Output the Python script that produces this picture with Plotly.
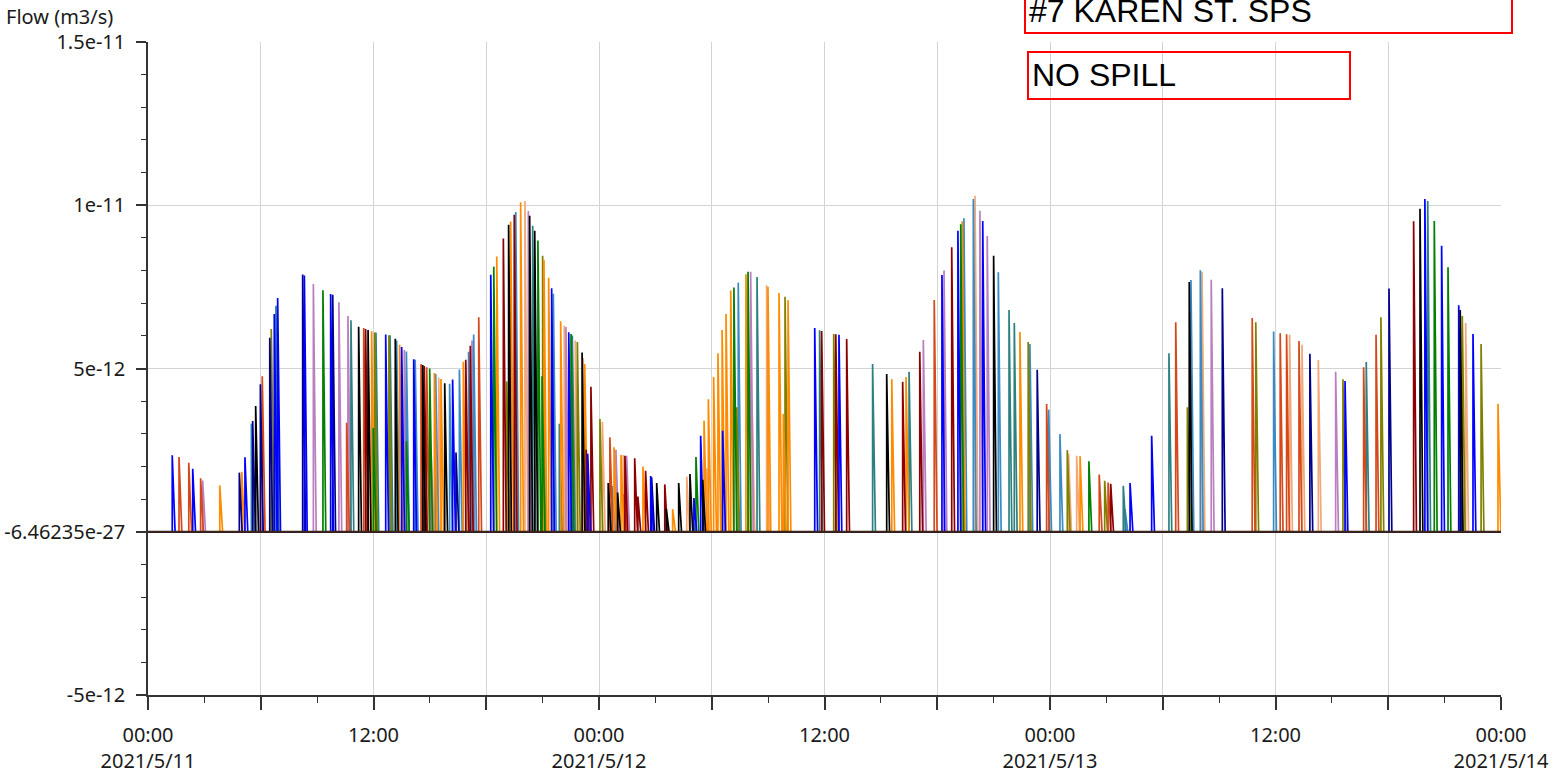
import plotly.graph_objects as go
import pandas as pd

START = pd.Timestamp("2021-05-11 00:00")
END = pd.Timestamp("2021-05-14 00:00")

# spike times (hours after 2021-05-11 00:00) and peak flows (x 1e-12 m3/s)
blue_h = [1.29, 2.38, 5.16, 6.72, 6.90, 8.32, 9.72, 12.65, 13.50, 14.14, 16.21, 18.24, 21.48, 22.39, 23.40, 26.75, 29.05, 29.41, 30.58, 35.48, 36.77, 42.25, 43.10, 44.42, 52.26, 53.41, 63.70, 67.95, 68.84, 69.75, 70.51]
blue_v = [2.34, 1.93, 2.28, 6.67, 7.16, 7.85, 7.28, 6.04, 5.66, 5.28, 4.66, 7.87, 7.46, 6.11, 2.39, 1.71, 1.03, 2.94, 3.09, 6.24, 6.03, 7.86, 9.22, 9.52, 1.49, 2.94, 4.62, 10.19, 8.76, 6.94, 6.06]

navy_h = [4.86, 5.57, 5.98, 6.48, 8.23, 9.83, 16.39, 26.80, 47.32, 57.17, 61.83, 66.04]
navy_v = [1.81, 3.39, 4.52, 5.94, 7.88, 7.26, 2.43, 1.67, 4.96, 7.46, 5.45, 7.45]

orange_h = [3.82, 4.99, 11.90, 13.39, 15.24, 15.59, 16.78, 18.56, 19.30, 19.83, 21.07, 21.32, 21.96, 23.24, 24.80, 25.17, 26.34, 27.92, 29.59, 29.82, 30.10, 30.33, 30.55, 30.76, 31.01, 31.82, 32.99, 33.58, 33.81, 34.06, 39.58, 40.34, 43.33, 46.40, 49.60, 71.84]
orange_v = [1.42, 1.84, 6.14, 5.73, 4.86, 4.68, 5.21, 8.43, 9.50, 10.09, 8.33, 7.78, 6.45, 5.14, 2.59, 2.35, 2.00, 0.69, 3.40, 4.06, 4.74, 5.47, 6.18, 6.67, 7.39, 7.89, 7.50, 7.31, 3.61, 7.10, 4.67, 4.74, 9.51, 6.12, 2.31, 3.92]

green_h = [9.31, 11.99, 13.75, 14.99, 18.40, 20.75, 20.97, 22.51, 29.16, 31.18, 31.93, 43.25, 50.07, 68.45, 69.18]
green_v = [7.40, 3.18, 2.77, 5.00, 8.12, 8.92, 4.76, 6.06, 2.29, 7.48, 7.96, 9.42, 2.16, 9.52, 8.10]

black_h = [5.73, 11.21, 11.71, 13.16, 14.62, 15.79, 19.19, 20.31, 20.58, 23.10, 24.49, 24.99, 27.07, 27.58, 28.24, 28.84, 29.52, 39.31, 45.00, 55.41, 67.69, 69.83]
black_v = [3.85, 6.28, 6.18, 5.91, 5.11, 4.55, 9.40, 9.68, 9.22, 5.49, 1.49, 1.20, 1.49, 0.70, 1.49, 1.77, 1.59, 4.83, 8.45, 7.65, 9.89, 6.79]

darkred_h = [11.58, 14.70, 16.91, 17.15, 18.91, 19.49, 23.32, 23.57, 25.38, 25.90, 26.07, 26.48, 27.50, 35.85, 36.60, 37.18, 40.16, 41.07, 42.77, 51.23, 67.35]
darkred_v = [6.21, 5.08, 5.27, 5.70, 8.98, 9.71, 2.51, 4.44, 2.33, 2.25, 1.08, 1.87, 1.45, 6.15, 6.05, 5.90, 4.59, 5.51, 8.71, 1.47, 9.51]

orangered_h = [1.65, 2.17, 2.80, 6.08, 10.57, 11.48, 14.53, 14.83, 17.60, 24.58, 25.33, 41.84, 47.82, 50.62, 51.09, 54.69, 58.76, 60.25, 60.59, 61.25, 64.69, 65.35]
orangered_v = [2.29, 2.11, 1.64, 4.76, 3.34, 6.24, 5.14, 5.04, 6.57, 2.89, 1.16, 7.10, 3.91, 1.75, 1.51, 6.42, 6.55, 6.08, 6.05, 5.84, 5.04, 6.03]

plum_h = [2.91, 8.80, 10.16, 10.64, 13.64, 15.06, 17.24, 20.24, 22.24, 24.90, 25.47, 32.07, 41.26, 42.36, 44.27, 44.66, 56.58, 63.20]
plum_v = [1.57, 7.59, 7.03, 6.61, 5.57, 2.49, 5.86, 9.82, 6.27, 2.51, 2.33, 7.96, 5.87, 8.00, 9.83, 9.06, 7.72, 4.90]

teal_h = [6.81, 10.80, 12.13, 12.88, 20.47, 21.89, 22.58, 32.41, 35.74, 38.56, 40.50, 45.82, 46.10, 51.90, 54.33, 64.83, 68.10]
teal_v = [6.92, 6.48, 6.10, 6.02, 9.37, 3.31, 6.01, 7.80, 6.17, 5.14, 4.90, 6.79, 6.39, 1.41, 5.47, 5.20, 10.13]

steel_h = [5.50, 13.23, 13.75, 14.22, 15.31, 16.05, 16.57, 17.06, 17.33, 19.57, 21.57, 24.69, 31.41, 43.42, 43.92, 45.25, 46.93, 47.93, 48.53, 51.99, 55.50, 56.00, 59.90]
steel_v = [3.31, 5.86, 5.52, 5.27, 4.83, 4.53, 4.97, 5.51, 6.04, 9.79, 7.29, 1.41, 7.63, 9.60, 10.19, 7.95, 5.75, 3.74, 2.99, 0.69, 7.71, 8.01, 6.13]

olive_h = [6.56, 12.06, 12.82, 19.09, 21.00, 22.85, 24.05, 31.33, 33.90, 36.49, 46.84, 48.92, 50.91, 55.31, 58.95, 63.59, 65.61, 69.94, 70.94]
olive_v = [6.21, 6.10, 6.02, 4.60, 8.45, 5.81, 3.45, 3.81, 7.20, 6.06, 5.81, 2.50, 1.56, 3.81, 6.42, 4.67, 6.57, 6.61, 5.75]

tan_h = [15.47, 20.06, 22.15, 22.74, 23.16, 24.18, 25.29, 28.67, 29.73, 32.14, 32.92, 44.01, 48.99, 49.42, 56.09, 60.75, 61.41, 62.28, 70.12]
tan_v = [4.72, 10.13, 6.31, 5.86, 5.32, 3.37, 2.35, 1.69, 1.94, 3.98, 7.55, 10.29, 2.39, 2.33, 7.96, 6.03, 5.73, 5.26, 6.39]

base_h = [0, 72]
base_v = [0.0, 0.0]

series = [
    ("tan", tan_h, tan_v, "#f2a878"),
    ("plum", plum_h, plum_v, "#b97fc1"),
    ("steel", steel_h, steel_v, "#3a8bc4"),
    ("teal", teal_h, teal_v, "#2e8080"),
    ("olive", olive_h, olive_v, "#808000"),
    ("orangered", orangered_h, orangered_v, "#d4481a"),
    ("orange", orange_h, orange_v, "#ff8c00"),
    ("green", green_h, green_v, "#008000"),
    ("darkred", darkred_h, darkred_v, "#8b0000"),
    ("navy", navy_h, navy_v, "#00008b"),
    ("blue", blue_h, blue_v, "#0000ff"),
    ("black", black_h, black_v, "#000000"),
    ("base", base_h, base_v, "#3f2616"),
]

FALL_MIN = 9  # minutes for each spike to fall back to zero

fig = go.Figure()
for name, hrs, vals, col in series:
    xs = [START]
    ys = [0.0]
    for h, v in sorted(zip(hrs, vals)):
        t = START + pd.Timedelta(hours=h)
        if v == 0:
            xs.append(t)
            ys.append(0.0)
            continue
        xs += [t, t, t + pd.Timedelta(minutes=FALL_MIN)]
        ys += [0.0, v * 1e-12, 0.0]
    xs.append(END)
    ys.append(0.0)
    fig.add_trace(go.Scatter(x=xs, y=ys, mode="lines", name=name,
                             line=dict(color=col, width=1.7 if name != "base" else 2.2),
                             showlegend=False, hoverinfo="skip"))

# axes
x_ticks = [START + pd.Timedelta(hours=6 * i) for i in range(13)]
x_text = []
for t in x_ticks:
    if t.hour == 0:
        x_text.append(f"00:00<br>{t.year}/{t.month}/{t.day}")
    elif t.hour == 12:
        x_text.append("12:00")
    else:
        x_text.append("")

y_vals = [-5e-12, 0, 5e-12, 1e-11, 1.5e-11]
y_text = ["-5e-12", "-6.46235e-27", "5e-12", "1e-11", "1.5e-11"]

W, H = 1565, 776
L, R, T, B = 148, 1501, 42, 695


def px(xp):
    return (xp - L) / (R - L)


def py(yp):
    return (B - yp) / (B - T)


FONT = "Noto Sans, DejaVu Sans, sans-serif"
x_font = dict(family=FONT, size=20, color="#1a1a1a")
y_font = dict(family=FONT, size=20, color="#1a1a1a")

fig.update_layout(
    width=W, height=H, autosize=False,
    margin=dict(l=L, r=W - R, t=T, b=H - B, pad=0),
    paper_bgcolor="white", plot_bgcolor="white",
    showlegend=False,
    xaxis=dict(
        type="date", range=[START, END], automargin=False,
        tickmode="array", tickvals=x_ticks, ticktext=x_text,
        ticks="outside", ticklen=13, tickwidth=1.5, tickcolor="#333",
        showline=True, linecolor="#333", linewidth=1.5,
        showgrid=True, gridcolor="#d4d4d4", gridwidth=1,
        zeroline=False, tickfont=x_font, ticklabelstandoff=8,
        minor=dict(dtick=3 * 3600 * 1000, tick0=START, ticks="outside", ticklen=6,
                   tickwidth=1.2, tickcolor="#333", showgrid=False),
    ),
    yaxis=dict(
        range=[-5e-12, 1.5e-11], automargin=False,
        tickmode="array", tickvals=y_vals, ticktext=y_text,
        ticks="outside", ticklen=10, tickwidth=1.5, tickcolor="#333",
        showline=True, linecolor="#333", linewidth=1.5,
        showgrid=True, gridcolor="#d4d4d4", gridwidth=1,
        zeroline=False, tickfont=y_font, ticklabelstandoff=7,
        minor=dict(dtick=1e-12, tick0=0, ticks="outside", ticklen=5,
                   tickwidth=1.2, tickcolor="#333", showgrid=False),
    ),
    shapes=[
        dict(type="rect", xref="paper", yref="paper",
             x0=px(1025), x1=px(1512), y0=py(33), y1=py(-14),
             line=dict(color="#ff0000", width=2), fillcolor="rgba(0,0,0,0)"),
        dict(type="rect", xref="paper", yref="paper",
             x0=px(1028), x1=px(1350), y0=py(99), y1=py(52),
             line=dict(color="#ff0000", width=2), fillcolor="rgba(0,0,0,0)"),
    ],
    annotations=[
        dict(text="Flow (m3/s)", xref="paper", yref="paper", x=px(4), y=py(17),
             xanchor="left", yanchor="middle", showarrow=False,
             font=dict(family=FONT, size=20, color="#1a1a1a")),
        dict(text="#7 KAREN ST. SPS", xref="paper", yref="paper", x=px(1027), y=py(11),
             xanchor="left", yanchor="middle", showarrow=False,
             font=dict(family="Liberation Sans, Arial, sans-serif", size=32, color="#000")),
        dict(text="NO SPILL", xref="paper", yref="paper", x=px(1030), y=py(75),
             xanchor="left", yanchor="middle", showarrow=False,
             font=dict(family="Liberation Sans, Arial, sans-serif", size=32, color="#000")),
    ],
)

fig.write_html("out.html", config={"displayModeBar": False},
               post_script="document.body.style.margin='0';document.body.style.overflow='hidden';")
